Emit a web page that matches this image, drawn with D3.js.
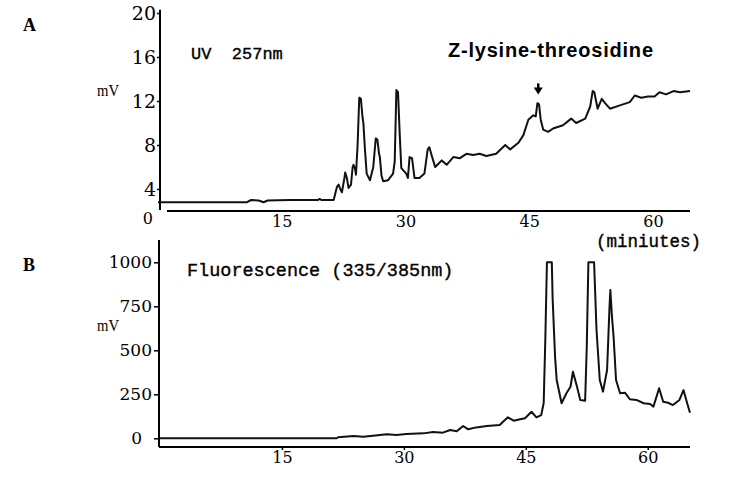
<!DOCTYPE html>
<html>
<head>
<meta charset="utf-8">
<script src="https://cdn.jsdelivr.net/npm/d3@7"></script>
<style>
  body { margin: 0; background: #fff; }
  .tick text { font-family: "DejaVu Serif", serif; fill: #000; }
  .tick line { stroke: #000; stroke-width: 1.5; }
  .mono { font-family: "Liberation Mono", monospace; fill: #000; stroke: #000; stroke-width: 0.35; }
</style>
</head>
<body>
<div id="chart"></div>
<script>
// UV 257nm trace (minutes, mV)
var uvTime = [0, 10.8, 11.3, 12.2, 12.8, 13.3, 16.0, 17.2, 19.4, 19.6, 19.8, 21.3, 21.7, 21.9, 22.1, 22.3, 22.6, 22.7, 22.9, 23.1,
    23.4, 23.6, 23.7, 23.9, 24.0, 24.2, 24.4, 24.6, 24.8, 24.9, 25.1, 25.3, 25.7, 26.1, 26.4, 26.6, 26.8, 26.9, 27.1, 27.3,
    27.9, 28.5, 28.7, 28.9, 29.1, 29.3, 29.5, 30.1, 30.3, 30.5, 30.8, 31.1, 31.7, 32.3, 32.7, 32.9, 33.2, 33.6, 34.0, 34.4,
    35.0, 35.8, 36.6, 37.4, 38.2, 39.0, 39.8, 41.0, 42.1, 42.7, 43.7, 44.3, 44.9, 45.5, 45.8, 46.0, 46.2, 46.4, 46.7, 47.3,
    47.9, 49.1, 50.1, 50.7, 51.8, 52.4, 52.7, 52.9, 53.3, 53.8, 54.2, 54.8, 56.0, 57.2, 57.8, 58.6, 59.4, 60.2, 60.8, 61.6,
    62.5, 63.3, 64.5];
var uvMv = [2.8, 2.8, 3.0, 2.95, 2.8, 2.95, 3.0, 3.0, 3.0, 3.1, 3.0, 3.0, 4.2, 4.4, 4.0, 3.7, 5.0, 5.5, 5.0, 4.1,
    4.4, 6.0, 6.2, 5.8, 5.3, 8.0, 12.3, 12.2, 10.5, 10.0, 7.5, 5.4, 4.8, 6.0, 8.6, 8.5, 7.2, 6.9, 5.2, 4.7,
    4.8, 5.4, 6.5, 13.0, 12.8, 9.1, 5.9, 5.4, 5.0, 6.9, 6.8, 5.0, 5.0, 5.4, 7.6, 7.8, 7.0, 6.0, 6.3, 6.6,
    6.2, 6.9, 6.8, 7.2, 7.1, 7.2, 7.0, 7.2, 8.0, 7.6, 8.2, 8.9, 10.3, 10.7, 10.6, 11.8, 11.7, 10.3, 9.4, 9.2,
    9.5, 9.8, 10.4, 10.0, 10.4, 11.5, 12.9, 12.8, 11.3, 12.2, 11.8, 11.3, 11.6, 11.9, 12.5, 12.3, 12.4, 12.4, 12.8, 12.6,
    12.9, 12.8, 12.9];

// Fluorescence 335/385nm trace (minutes, mV)
var flTime = [0, 21.7, 21.9, 23.8, 25.0, 26.2, 27.9, 29.1, 30.3, 32.4, 33.6, 34.8, 35.7, 36.5, 37.3, 37.9, 38.9, 40.2, 41.8, 42.2,
    42.8, 43.5, 44.3, 44.9, 45.7, 46.3, 46.9, 47.2, 47.4, 47.6, 48.2, 48.3, 48.6, 48.8, 49.4, 50.0, 50.5, 50.8, 51.3, 51.7,
    52.3, 52.5, 52.7, 53.4, 53.7, 54.1, 54.5, 55.0, 55.3, 55.4, 55.6, 55.8, 56.1, 56.6, 57.2, 57.8, 58.6, 59.5, 60.3, 60.7,
    61.4, 61.9, 62.5, 63.1, 63.9, 64.4, 64.8, 65.2];
var flMv = [0, 0, 6, 13, 9, 15, 23, 19, 24, 28, 36, 32, 47, 40, 70, 51, 62, 70, 76, 94,
    119, 100, 108, 114, 151, 119, 132, 200, 560, 1000, 1000, 795, 464, 331, 199, 256, 293, 378, 293, 218,
    214, 520, 1000, 1000, 615, 331, 265, 388, 748, 843, 691, 577, 331, 256, 259, 222, 218, 199, 195, 180,
    284, 208, 202, 189, 218, 274, 208, 145];

var uvTicks = [4, 8, 12, 16, 20];
var flTicks = [0, 250, 500, 750, 1000];
var timeTicks = [15, 30, 45, 60];
var peakName = "Z-lysine-threosidine";
var peakTime = 46.1, peakTip = 12.6;

var width = 750, height = 492;

var svg = d3.select("#chart").append("svg")
    .attr("width", width)
    .attr("height", height);

// ---------- panel A ----------
var xA = d3.scaleLinear().domain([0, 64.5]).range([158, 690]);
var yA = d3.scaleLinear().domain([0, 20]).range([233, 13]);

svg.append("line") // y axis
    .attr("x1", 160).attr("x2", 160)
    .attr("y1", yA(20.3)).attr("y2", yA(2.1))
    .attr("stroke", "#000").attr("stroke-width", 2);
svg.append("line") // x axis
    .attr("x1", 167).attr("x2", xA(64.5))
    .attr("y1", yA(2)).attr("y2", yA(2))
    .attr("stroke", "#000").attr("stroke-width", 2);

var yAxisA = d3.axisLeft(yA).tickValues(uvTicks).tickSize(3).tickPadding(1);
svg.append("g")
    .attr("transform", "translate(160,0)")
    .call(yAxisA)
    .call(function(g) {
        g.select(".domain").remove();
        g.selectAll("text").style("font-size", "19px");
    });

var xAxisA = d3.axisBottom(xA).tickValues(timeTicks).tickSize(0).tickPadding(5);
svg.append("g")
    .attr("transform", "translate(0," + yA(2) + ")")
    .call(xAxisA)
    .call(function(g) {
        g.select(".domain").remove();
        g.selectAll("text").style("font-size", "16px");
    });

svg.append("text") // the corner zero
    .attr("x", 153).attr("y", yA(2) + 13)
    .attr("text-anchor", "end")
    .style("font-family", "DejaVu Serif, serif").style("font-size", "16px")
    .text("0");

var lineA = d3.line()
    .x(function(d) { return xA(d[0]); })
    .y(function(d) { return yA(d[1]); });

svg.append("path")
    .datum(d3.zip(uvTime, uvMv))
    .attr("fill", "none")
    .attr("stroke", "#111")
    .attr("stroke-width", 2)
    .attr("stroke-linejoin", "round")
    .attr("d", lineA);

// arrow over the peak
var ax = xA(peakTime), ay = yA(peakTip);
svg.append("path")
    .attr("d", "M" + ax + "," + ay + "l-4.5,-7h9z")
    .attr("fill", "#000");
svg.append("line")
    .attr("x1", ax).attr("x2", ax)
    .attr("y1", ay - 11).attr("y2", ay - 6)
    .attr("stroke", "#000").attr("stroke-width", 2.5);

svg.append("text")
    .attr("x", 448).attr("y", 57)
    .style("font-family", "Liberation Sans, Arial, sans-serif")
    .style("font-weight", "bold").style("font-size", "20px")
    .attr("textLength", 205)
    .text(peakName);

svg.append("text")
    .attr("class", "mono")
    .attr("x", 191).attr("y", 59)
    .style("font-size", "17px")
    .style("white-space", "pre")
    .text("UV  257nm");

svg.append("text")
    .attr("x", 97).attr("y", 96)
    .style("font-family", "Liberation Serif, serif").style("font-size", "17px")
    .attr("textLength", 22).attr("lengthAdjust", "spacingAndGlyphs")
    .text("mV");

svg.append("text")
    .attr("x", 23).attr("y", 31)
    .style("font-family", "Liberation Serif, serif").style("font-size", "18px").style("font-weight", "bold")
    .text("A");

svg.append("text")
    .attr("class", "mono")
    .attr("x", 596).attr("y", 247)
    .style("font-size", "17.5px")
    .text("(miniutes)");

// ---------- panel B ----------
var xB = d3.scaleLinear().domain([0, 65.2]).range([160, 690]);
var yB = d3.scaleLinear().domain([0, 1000]).range([438.3, 262.3]);

svg.append("line")
    .attr("x1", 159).attr("x2", 159)
    .attr("y1", 240).attr("y2", 447)
    .attr("stroke", "#000").attr("stroke-width", 2);
svg.append("line")
    .attr("x1", 159).attr("x2", xB(65.2))
    .attr("y1", 447).attr("y2", 447)
    .attr("stroke", "#000").attr("stroke-width", 2);

var yAxisB = d3.axisLeft(yB).tickValues(flTicks).tickFormat(d3.format("d"))
    .tickSize(5).tickPadding(2);
svg.append("g")
    .attr("transform", "translate(159,0)")
    .call(yAxisB)
    .call(function(g) {
        g.select(".domain").remove();
        g.selectAll("text").style("font-size", "17px");
        g.selectAll("text").filter(function(d) { return d === 0; }).attr("dx", -10);
    });

var xAxisB = d3.axisBottom(xB).tickValues(timeTicks).tickSize(3).tickPadding(2);
svg.append("g")
    .attr("transform", "translate(0,447)")
    .call(xAxisB)
    .call(function(g) {
        g.select(".domain").remove();
        g.selectAll("text").style("font-size", "16px");
    });

var lineB = d3.line()
    .x(function(d) { return xB(d[0]); })
    .y(function(d) { return yB(d[1]); });

svg.append("path")
    .datum(d3.zip(flTime, flMv))
    .attr("fill", "none")
    .attr("stroke", "#111")
    .attr("stroke-width", 2)
    .attr("stroke-linejoin", "round")
    .attr("d", lineB);

svg.append("text")
    .attr("class", "mono")
    .attr("x", 187).attr("y", 276)
    .style("font-size", "18.5px")
    .text("Fluorescence (335/385nm)");

svg.append("text")
    .attr("x", 97).attr("y", 331)
    .style("font-family", "Liberation Serif, serif").style("font-size", "17px")
    .attr("textLength", 22).attr("lengthAdjust", "spacingAndGlyphs")
    .text("mV");

svg.append("text")
    .attr("x", 23).attr("y", 271)
    .style("font-family", "Liberation Serif, serif").style("font-size", "18px").style("font-weight", "bold")
    .text("B");
</script>
</body>
</html>
